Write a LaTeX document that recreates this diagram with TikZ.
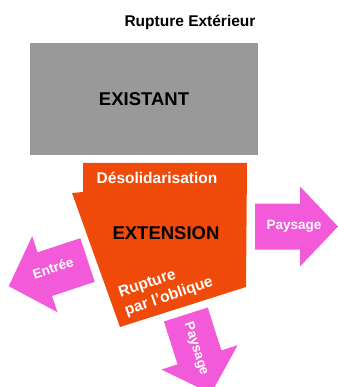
\documentclass[tikz,border=0pt]{standalone}
\usepackage{fontspec}
\setmainfont{Liberation Sans}
\definecolor{existgrey}{RGB}{153,153,153}
\definecolor{extorange}{RGB}{240,74,10}
\definecolor{arrowpink}{RGB}{242,90,218}

\begin{document}
\begin{tikzpicture}[
  x=1pt,y=1pt,
  bigtext/.style={font=\fontsize{18.5}{21}\selectfont\bfseries},
  midtext/.style={font=\fontsize{15.5}{19}\selectfont\bfseries},
  arrowtext/.style={font=\fontsize{13.5}{15}\selectfont\bfseries,text=white},
  rosearrow/.pic={\fill[arrowpink] (0,-23) -- (45,-23) -- (45,-40) -- (83,0) -- (45,40) -- (45,23) -- (0,23) -- cycle;}
]
  \useasboundingbox (0,0) rectangle (337,-387);
  \node[midtext] (titre) at (190,-22) {Rupture Extérieur};
  \node[bigtext,fill=existgrey,minimum width=228,minimum height=112] (existant) at (144,-99) {EXISTANT};
  \pic[rotate=0] at (255,-226.5) {rosearrow};
  \pic[rotate=198.4] at (87.5,-260) {rosearrow};
  \pic[rotate=-72.3] at (185.8,-314.5) {rosearrow};
  \fill[extorange] (83,-163) -- (247,-163) -- (246,-287) -- (120,-327) -- (72,-193) -- (83,-192) -- cycle;
  \node[midtext,text=white] (desolid) at (157,-178) {Désolidarisation};
  \node[bigtext] (extension) at (166,-233) {EXTENSION};
  \node[midtext,text=white,align=left,rotate=19,inner sep=0pt] (oblique) at (166,-288) {Rupture\\par l'oblique};
  \node[arrowtext] (paysdroite) at (294,-226) {Paysage};
  \node[arrowtext,rotate=18.4] (entree) at (53,-268) {Entrée};
  \node[arrowtext,rotate=-72.3] (paysbas) at (196,-349) {Paysage};
\end{tikzpicture}
\end{document}
